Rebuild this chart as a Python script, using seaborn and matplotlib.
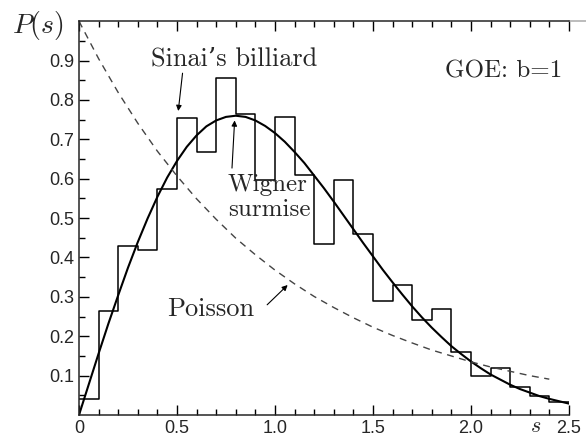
import numpy as np
import pandas as pd
import seaborn as sns
import matplotlib.pyplot as plt

# histogram of level spacings for Sinai's billiard (bin width 0.1)
bin_edges = [round(0.1 * i, 1) for i in range(26)]
sinai_heights = [0.04, 0.265, 0.43, 0.42, 0.575, 0.755, 0.667, 0.855, 0.764, 0.597,
                 0.758, 0.61, 0.435, 0.597, 0.46, 0.29, 0.33, 0.24, 0.27, 0.16,
                 0.10, 0.12, 0.07, 0.048, 0.034]

# curves
s_wigner = [round(0.05 * i, 2) for i in range(51)]
wigner = [0.0, 0.078, 0.156, 0.232, 0.304, 0.374, 0.439, 0.499, 0.554, 0.603,
          0.645, 0.681, 0.710, 0.733, 0.748, 0.757, 0.760, 0.757, 0.748, 0.734,
          0.716, 0.694, 0.668, 0.640, 0.608, 0.576, 0.542, 0.507, 0.472, 0.437,
          0.403, 0.369, 0.337, 0.306, 0.276, 0.248, 0.222, 0.198, 0.175, 0.155,
          0.136, 0.119, 0.103, 0.090, 0.077, 0.066, 0.057, 0.048, 0.041, 0.035,
          0.029]
s_poisson = [round(0.1 * i, 1) for i in range(25)]
poisson = [1.0, 0.905, 0.819, 0.741, 0.670, 0.607, 0.549, 0.497, 0.449, 0.407,
           0.368, 0.333, 0.301, 0.273, 0.247, 0.223, 0.202, 0.183, 0.165, 0.150,
           0.135, 0.122, 0.111, 0.100, 0.091]

sns.set_style('ticks')
plt.rcParams['font.family'] = ['Liberation Sans', 'DejaVu Sans']
plt.rcParams['mathtext.fontset'] = 'cm'

fig = plt.figure(figsize=(5.86, 4.4), dpi=100)
ax = fig.add_axes([0.1348, 0.0568, 0.836, 0.895])

centers = [(bin_edges[i] + bin_edges[i + 1]) / 2 for i in range(len(sinai_heights))]
hist_df = pd.DataFrame({'s': centers, 'P': sinai_heights})
sns.histplot(data=hist_df, x='s', weights='P', bins=bin_edges, element='step',
             fill=False, color='black', linewidth=1.1, ax=ax)

sns.lineplot(x=s_wigner, y=wigner, color='black', linewidth=1.5, ax=ax)
sns.lineplot(x=s_poisson, y=poisson, color='#444444', linewidth=1.0,
             ax=ax, linestyle=(0, (5, 4)))

ax.set_xlim(0, 2.5)
ax.set_ylim(0, 1.0)
ax.set_xticks([0, 0.5, 1.0, 1.5, 2.0, 2.5])
ax.set_xticklabels(['0', '0.5', '1.0', '1.5', '2.0', '2.5'])
ax.set_xticks(np.arange(0, 2.51, 0.1), minor=True)
ax.set_yticks([0.1, 0.2, 0.3, 0.4, 0.5, 0.6, 0.7, 0.8, 0.9])
ax.set_yticks(np.arange(0.05, 1.0, 0.05), minor=True)
ax.tick_params(which='both', direction='in', top=True, right=False,
               labelsize=13, width=1, color='black')
ax.tick_params(which='major', length=7)
ax.tick_params(which='minor', length=4)
ax.spines['right'].set_visible(False)
for sp in ['left', 'bottom', 'top']:
    ax.spines[sp].set_linewidth(1.1)
# faint continuation of the top frame line past the axis end
ax.plot([1, 1.04], [1, 1], transform=ax.transAxes, clip_on=False,
        color='#aaaaaa', linewidth=1.1)
ax.set_xlabel('')
ax.set_ylabel('')

serif = ['cmr10', 'DejaVu Serif']
ax.text(-0.34, 0.99, r'$P(s)$', fontsize=20, ha='left', va='center', clip_on=False)
ax.text(2.33, -0.03, r'$s$', fontsize=16, ha='center', va='center', clip_on=False)
ax.text(0.37, 0.905, "Sinai\u2019s billiard", fontsize=19, family=serif,
        ha='left', va='center')
ax.text(1.87, 0.872, 'GOE: b=1', fontsize=18, family=serif, ha='left', va='center')
ax.text(0.96, 0.585, 'Wigner', fontsize=18, family=serif, ha='center', va='center')
ax.text(0.97, 0.52, 'surmise', fontsize=18, family=serif, ha='center', va='center')
ax.text(0.45, 0.27, 'Poisson', fontsize=19, family=serif, ha='left', va='center')

arrow = dict(arrowstyle='-|>', color='black', lw=0.8, mutation_scale=8)
ax.annotate('', xy=(0.505, 0.765), xytext=(0.53, 0.875), arrowprops=arrow)
ax.annotate('', xy=(0.795, 0.755), xytext=(0.78, 0.62), arrowprops=arrow)
ax.annotate('', xy=(1.075, 0.335), xytext=(0.95, 0.275), arrowprops=arrow)

fig.savefig('out.png', dpi=100)
